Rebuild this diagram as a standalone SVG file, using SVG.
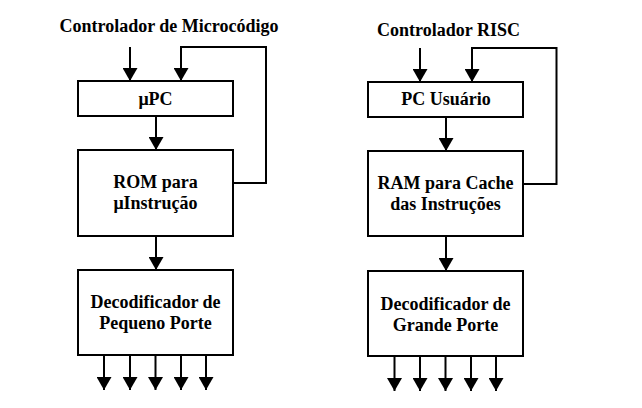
<svg xmlns="http://www.w3.org/2000/svg" width="642" height="408" viewBox="0 0 642 408">
<style>
.box{fill:#fff;stroke:#000;stroke-width:2}
.ln{fill:none;stroke:#000;stroke-width:2}
.t{font-family:"Liberation Serif","Times New Roman",serif;font-weight:bold;font-size:18px;fill:#000;text-anchor:middle}
</style>
<defs>
<marker id="ah" markerUnits="userSpaceOnUse" markerWidth="16" markerHeight="14" viewBox="0 0 16 14" refX="7.5" refY="13" orient="0">
<polygon points="0,0 15,0 7.5,13" fill="#000"/>
</marker>
</defs>
<rect width="642" height="408" fill="#fff"/>
<text class="t" x="169" y="32">Controlador de Microcódigo</text>
<text class="t" x="448.5" y="35.5">Controlador RISC</text>
<g id="connectors">
<line class="ln" x1="130" y1="47" x2="130" y2="81" marker-end="url(#ah)"/>
<path class="ln" d="M233,183 H266 V47 H181 V81" marker-end="url(#ah)"/>
<line class="ln" x1="156" y1="116" x2="156" y2="150" marker-end="url(#ah)"/>
<line class="ln" x1="156" y1="236" x2="156" y2="270" marker-end="url(#ah)"/>
<line class="ln" x1="104" y1="355" x2="104" y2="390" marker-end="url(#ah)"/>
<line class="ln" x1="130" y1="355" x2="130" y2="390" marker-end="url(#ah)"/>
<line class="ln" x1="155.5" y1="355" x2="155.5" y2="390" marker-end="url(#ah)"/>
<line class="ln" x1="181" y1="355" x2="181" y2="390" marker-end="url(#ah)"/>
<line class="ln" x1="206" y1="355" x2="206" y2="390" marker-end="url(#ah)"/>
<line class="ln" x1="420" y1="48" x2="420" y2="82" marker-end="url(#ah)"/>
<path class="ln" d="M523,184 H556.5 V48 H472 V82" marker-end="url(#ah)"/>
<line class="ln" x1="446" y1="117" x2="446" y2="151" marker-end="url(#ah)"/>
<line class="ln" x1="446" y1="236" x2="446" y2="271" marker-end="url(#ah)"/>
<line class="ln" x1="394.5" y1="356" x2="394.5" y2="391" marker-end="url(#ah)"/>
<line class="ln" x1="420" y1="356" x2="420" y2="391" marker-end="url(#ah)"/>
<line class="ln" x1="445.5" y1="356" x2="445.5" y2="391" marker-end="url(#ah)"/>
<line class="ln" x1="471" y1="356" x2="471" y2="391" marker-end="url(#ah)"/>
<line class="ln" x1="496" y1="356" x2="496" y2="391" marker-end="url(#ah)"/>
</g>
<g id="upc">
<rect class="box" x="78" y="81" width="155" height="35"/>
<text class="t" x="155.5" y="104.5">μPC</text>
</g>
<g id="rom">
<rect class="box" x="78" y="150" width="155" height="86"/>
<text class="t" x="155.5" y="188">ROM para</text>
<text class="t" x="155.5" y="209">μInstrução</text>
</g>
<g id="dec-small">
<rect class="box" x="78" y="270" width="155" height="85"/>
<text class="t" x="155.5" y="308">Decodificador de</text>
<text class="t" x="155.5" y="329">Pequeno Porte</text>
</g>
<g id="pc-usuario">
<rect class="box" x="368" y="82" width="155" height="35"/>
<text class="t" x="446" y="105">PC Usuário</text>
</g>
<g id="ram">
<rect class="box" x="368" y="151" width="155" height="85"/>
<text class="t" x="445.5" y="188.5">RAM para Cache</text>
<text class="t" x="445.5" y="209.5">das Instruções</text>
</g>
<g id="dec-large">
<rect class="box" x="368" y="271" width="155" height="85"/>
<text class="t" x="445.5" y="310">Decodificador de</text>
<text class="t" x="445.5" y="331">Grande Porte</text>
</g>
</svg>
